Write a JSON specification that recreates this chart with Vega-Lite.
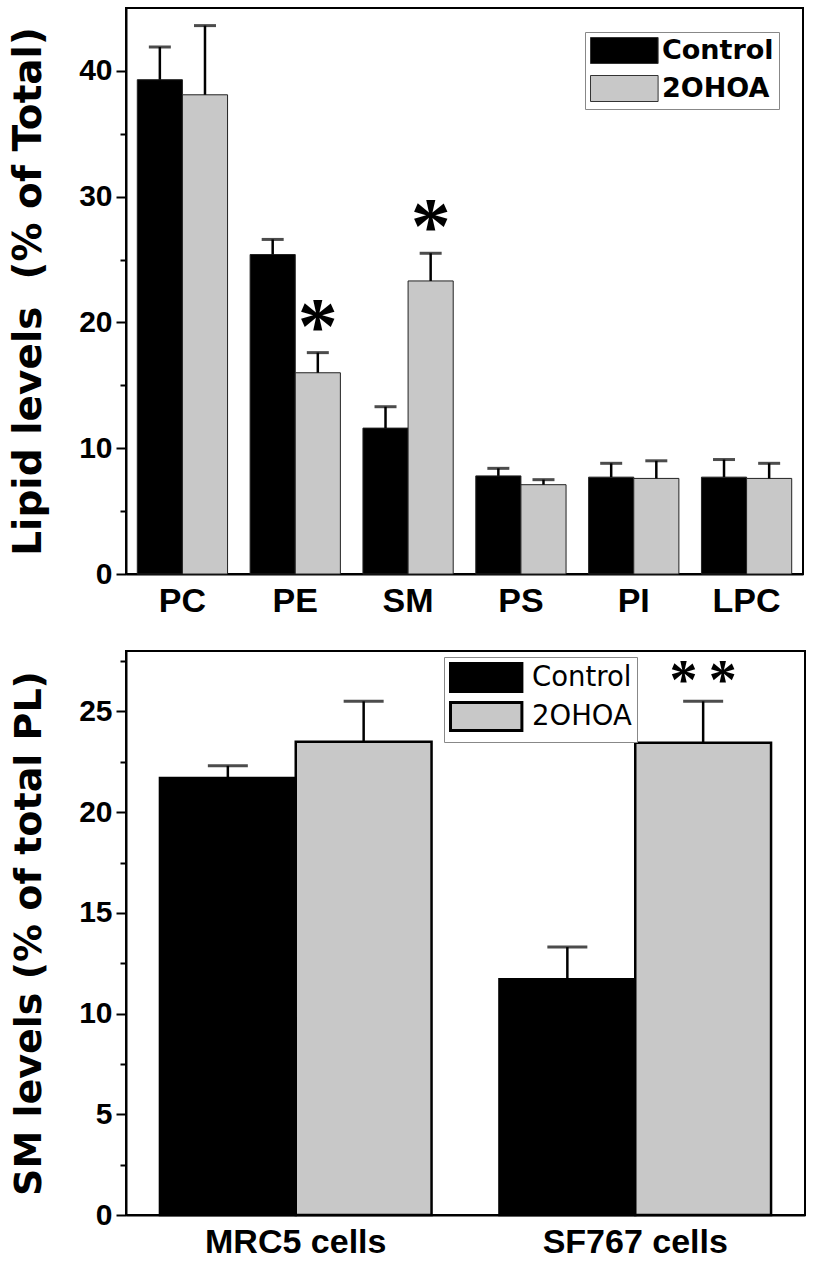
{
  "$schema": "https://vega.github.io/schema/vega-lite/v6.json",
  "padding": {"left": 8, "top": 7, "right": 5, "bottom": 0},
  "spacing": 31,
  "background": "white",
  "config": {
    "font": "Liberation Sans",
    "view": {"stroke": "black", "strokeWidth": 2},
    "axis": {"domainColor": "black", "domainWidth": 2, "tickColor": "black", "tickWidth": 2, "labelColor": "black", "titleColor": "black", "labelFont": "Liberation Sans", "titleFont": "DejaVu Sans", "labelFontWeight": "bold", "titleFontWeight": "bold", "grid": false},
    "legend": {"labelFont": "DejaVu Sans", "labelColor": "black"}
  },
  "datasets": {
    "lipids": [
      {"category": "PC", "group": "Control", "value": 39.3, "upper": 41.9, "sig": ""},
      {"category": "PC", "group": "2OHOA", "value": 38.1, "upper": 43.6, "sig": ""},
      {"category": "PE", "group": "Control", "value": 25.4, "upper": 26.6, "sig": ""},
      {"category": "PE", "group": "2OHOA", "value": 16.0, "upper": 17.6, "sig": "*"},
      {"category": "SM", "group": "Control", "value": 11.6, "upper": 13.3, "sig": ""},
      {"category": "SM", "group": "2OHOA", "value": 23.3, "upper": 25.5, "sig": "*"},
      {"category": "PS", "group": "Control", "value": 7.8, "upper": 8.4, "sig": ""},
      {"category": "PS", "group": "2OHOA", "value": 7.1, "upper": 7.5, "sig": ""},
      {"category": "PI", "group": "Control", "value": 7.7, "upper": 8.8, "sig": ""},
      {"category": "PI", "group": "2OHOA", "value": 7.6, "upper": 9.0, "sig": ""},
      {"category": "LPC", "group": "Control", "value": 7.7, "upper": 9.1, "sig": ""},
      {"category": "LPC", "group": "2OHOA", "value": 7.6, "upper": 8.8, "sig": ""}
    ],
    "sm": [
      {"cell": "MRC5 cells", "group": "Control", "value": 21.7, "upper": 22.3, "sig": ""},
      {"cell": "MRC5 cells", "group": "2OHOA", "value": 23.5, "upper": 25.5, "sig": ""},
      {"cell": "SF767 cells", "group": "Control", "value": 11.7, "upper": 13.3, "sig": ""},
      {"cell": "SF767 cells", "group": "2OHOA", "value": 23.45, "upper": 25.5, "sig": "*\u2009*"}
    ]
  },
  "vconcat": [
    {
      "width": 677,
      "height": 566,
      "data": {"name": "lipids"},
      "encoding": {
        "x": {"field": "category", "type": "nominal", "sort": ["PC", "PE", "SM", "PS", "PI", "LPC"],
              "scale": {"paddingInner": 0.2, "paddingOuter": 0.1},
              "axis": {"title": null, "ticks": false, "labelAngle": 0, "labelFontSize": 34, "labelPadding": 10, "labelLimit": 0}},
        "xOffset": {"field": "group", "type": "nominal", "sort": ["Control", "2OHOA"]}
      },
      "layer": [
        {
          "mark": {"type": "bar", "stroke": "#222222", "strokeWidth": 1},
          "encoding": {
            "y": {"field": "value", "type": "quantitative", "scale": {"domain": [0, 45], "nice": false},
                  "title": "Lipid levels\u00a0 (% of Total)",
                  "axis": {"titleFontSize": 39, "titlePadding": 30,
                           "values": [0, 5, 10, 15, 20, 25, 30, 35, 40],
                           "labelExpr": "datum.value % 10 === 0 ? datum.label : ''",
                           "tickSize": {"condition": {"test": "datum.value % 10 === 0", "value": 10}, "value": 6},
                           "labelFont": "Liberation Sans Narrow, Liberation Sans",
                           "labelFontSize": 30, "labelPadding": 4}},
            "color": {"field": "group", "type": "nominal", "sort": ["Control", "2OHOA"],
                      "scale": {"range": ["#000000", "#c8c8c8"]},
                      "legend": {"title": null, "orient": "none", "legendX": 459, "legendY": 24,
                                 "symbolType": "M-1,-1H4.2V1H-1Z", "symbolSize": 676,
                                 "symbolStrokeColor": "#333333", "symbolStrokeWidth": 1, "symbolOpacity": 1,
                                 "labelFontSize": 27, "labelFontWeight": "bold", "labelOffset": 45,
                                 "rowPadding": 7, "padding": 5, "strokeColor": "#888888", "fillColor": "white"}}
          }
        },
        {
          "mark": {"type": "rule", "color": "black", "strokeWidth": 2.5},
          "encoding": {"y": {"field": "value", "type": "quantitative", "title": "Lipid levels\u00a0 (% of Total)"}, "y2": {"field": "upper"}}
        },
        {
          "mark": {"type": "tick", "color": "black", "thickness": 3, "size": 22, "orient": "horizontal"},
          "encoding": {"y": {"field": "upper", "type": "quantitative", "title": "Lipid levels\u00a0 (% of Total)"}}
        },
        {
          "transform": [{"filter": "datum.sig !== ''"}],
          "mark": {"type": "text", "font": "Liberation Serif", "fontWeight": "bold", "fontSize": 80, "baseline": "alphabetic", "dy": 0, "color": "black"},
          "encoding": {"y": {"field": "upper", "type": "quantitative", "title": "Lipid levels\u00a0 (% of Total)"}, "text": {"field": "sig"}}
        }
      ]
    },
    {
      "width": 679,
      "height": 564,
      "data": {"name": "sm"},
      "encoding": {
        "x": {"field": "cell", "type": "nominal", "sort": ["MRC5 cells", "SF767 cells"],
              "scale": {"paddingInner": 0.2, "paddingOuter": 0.1},
              "axis": {"title": null, "ticks": false, "labelAngle": 0, "labelFontSize": 34, "labelPadding": 10, "labelLimit": 0}},
        "xOffset": {"field": "group", "type": "nominal", "sort": ["Control", "2OHOA"]}
      },
      "layer": [
        {
          "mark": {"type": "bar", "stroke": "black", "strokeWidth": 2.5},
          "encoding": {
            "y": {"field": "value", "type": "quantitative", "scale": {"domain": [0, 28], "nice": false},
                  "title": "SM levels (% of total PL)",
                  "axis": {"titleFontSize": 38, "titlePadding": 30,
                           "values": [0, 2.5, 5, 7.5, 10, 12.5, 15, 17.5, 20, 22.5, 25, 27.5],
                           "labelExpr": "datum.value % 5 === 0 ? datum.label : ''",
                           "tickSize": {"condition": {"test": "datum.value % 5 === 0", "value": 10}, "value": 6},
                           "labelFont": "Liberation Sans Narrow, Liberation Sans",
                           "labelFontSize": 30, "labelPadding": 4}},
            "color": {"field": "group", "type": "nominal", "sort": ["Control", "2OHOA"],
                      "scale": {"range": ["#000000", "#c8c8c8"]},
                      "legend": {"title": null, "orient": "none", "legendX": 318, "legendY": 6,
                                 "symbolType": "M-1,-1H4.1V1H-1Z", "symbolSize": 784,
                                 "symbolStrokeColor": "black", "symbolStrokeWidth": 3, "symbolOpacity": 1,
                                 "labelFontSize": 27.5, "labelFontWeight": "normal", "labelOffset": 52,
                                 "rowPadding": -2, "padding": 5, "strokeColor": "#888888", "fillColor": "white"}}
          }
        },
        {
          "mark": {"type": "rule", "color": "black", "strokeWidth": 2.5},
          "encoding": {"y": {"field": "value", "type": "quantitative", "title": "SM levels (% of total PL)"}, "y2": {"field": "upper"}}
        },
        {
          "mark": {"type": "tick", "color": "black", "thickness": 3, "size": 40, "orient": "horizontal"},
          "encoding": {"y": {"field": "upper", "type": "quantitative", "title": "SM levels (% of total PL)"}}
        },
        {
          "transform": [{"filter": "datum.sig !== ''"}],
          "mark": {"type": "text", "font": "Liberation Serif", "fontWeight": "bold", "fontSize": 56, "baseline": "alphabetic", "dy": -2, "color": "black"},
          "encoding": {"y": {"field": "upper", "type": "quantitative", "title": "SM levels (% of total PL)"}, "text": {"field": "sig"}}
        }
      ]
    }
  ],
  "resolve": {"scale": {"color": "independent", "x": "independent", "y": "independent", "xOffset": "independent"}, "legend": {"color": "independent"}}
}
